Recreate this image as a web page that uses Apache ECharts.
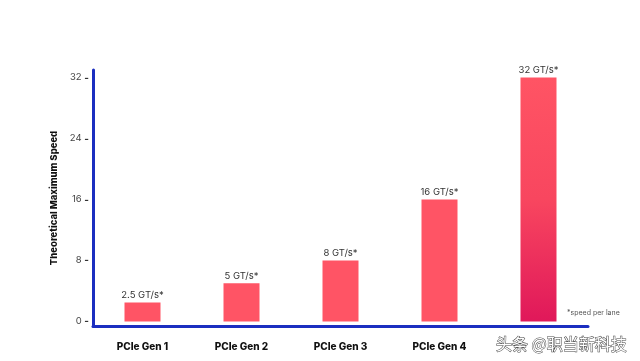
<!DOCTYPE html>
<html>
<head>
<meta charset="utf-8">
<script src="https://cdn.jsdelivr.net/npm/echarts@6/dist/echarts.min.js"></script>
<style>html,body{margin:0;padding:0;background:#fff}#c{width:640px;height:361px}</style>
</head>
<body>
<div id="c"></div>
<script>
var categories = ['PCIe Gen 1', 'PCIe Gen 2', 'PCIe Gen 3', 'PCIe Gen 4', 'PCIe Gen 5'];
var speeds = [2.5, 5, 8, 16, 32];
var yTicks = [0, 8, 16, 24, 32];
var yTitle = 'Theoretical Maximum Speed';
var footnote = '*speed per lane';
var watermark = '头条 @职当新科技';

var chart = echarts.init(document.getElementById('c'), null, {renderer: 'canvas'});
var FONT = 'Inter, "Noto Sans", sans-serif';
var barData = speeds.map(function (v, i) {
  var item = {value: v};
  if (i === speeds.length - 1) {
    item.itemStyle = {
      color: new echarts.graphic.LinearGradient(0, 0, 0, 1, [
        {offset: 0, color: '#FF5464'},
        {offset: 0.5, color: '#F8465F'},
        {offset: 1, color: '#E0185A'}
      ])
    };
  }
  return item;
});
chart.setOption({
  backgroundColor: '#fff',
  animation: false,
  grid: {left: 93, right: 52, top: 70, bottom: 35, containLabel: false},
  xAxis: {
    type: 'category',
    data: categories,
    axisLine: {onZero: false, lineStyle: {color: '#1B2EC0', width: 3}},
    axisTick: {show: false},
    axisLabel: {margin: 16, color: '#111', fontSize: 10, fontWeight: 800, fontFamily: FONT}
  },
  yAxis: {
    type: 'value',
    min: -0.6,
    max: 33,
    name: yTitle,
    nameLocation: 'middle',
    nameGap: 33,
    nameRotate: 90,
    nameTextStyle: {color: '#111', fontSize: 9.5, fontWeight: 800, fontFamily: FONT},
    axisLine: {show: true, lineStyle: {color: '#1B2EC0', width: 3}},
    axisTick: {show: false},
    splitLine: {show: false},
    axisLabel: {
      customValues: yTicks,
      margin: 4,
      color: '#444',
      fontSize: 9.5,
      fontFamily: FONT,
      formatter: function (v) { return v + ' {d|-}'; },
      rich: {d: {color: '#333', fontSize: 10, fontWeight: 'bold', fontFamily: FONT}}
    }
  },
  series: [{
    type: 'bar',
    data: barData,
    barWidth: 36,
    itemStyle: {color: '#FF5465'},
    label: {
      show: true,
      position: 'top',
      distance: 2,
      color: '#333',
      fontSize: 9.5,
      fontFamily: FONT,
      formatter: function (p) { return p.value + ' GT/s*'; }
    }
  }],
  graphic: [
    {type: 'text', left: 567, top: 309, style: {text: footnote, fill: '#555', fontSize: 7, fontFamily: FONT}},
    {type: 'text', left: 494, top: 334, z: 100, style: {text: watermark, fill: '#fff', stroke: '#444', lineWidth: 1, fontSize: 16, fontFamily: '"Noto Sans CJK SC", sans-serif', backgroundColor: '#fff', padding: [2, 4, 4, 2]}}
  ]
});
</script>
</body>
</html>
